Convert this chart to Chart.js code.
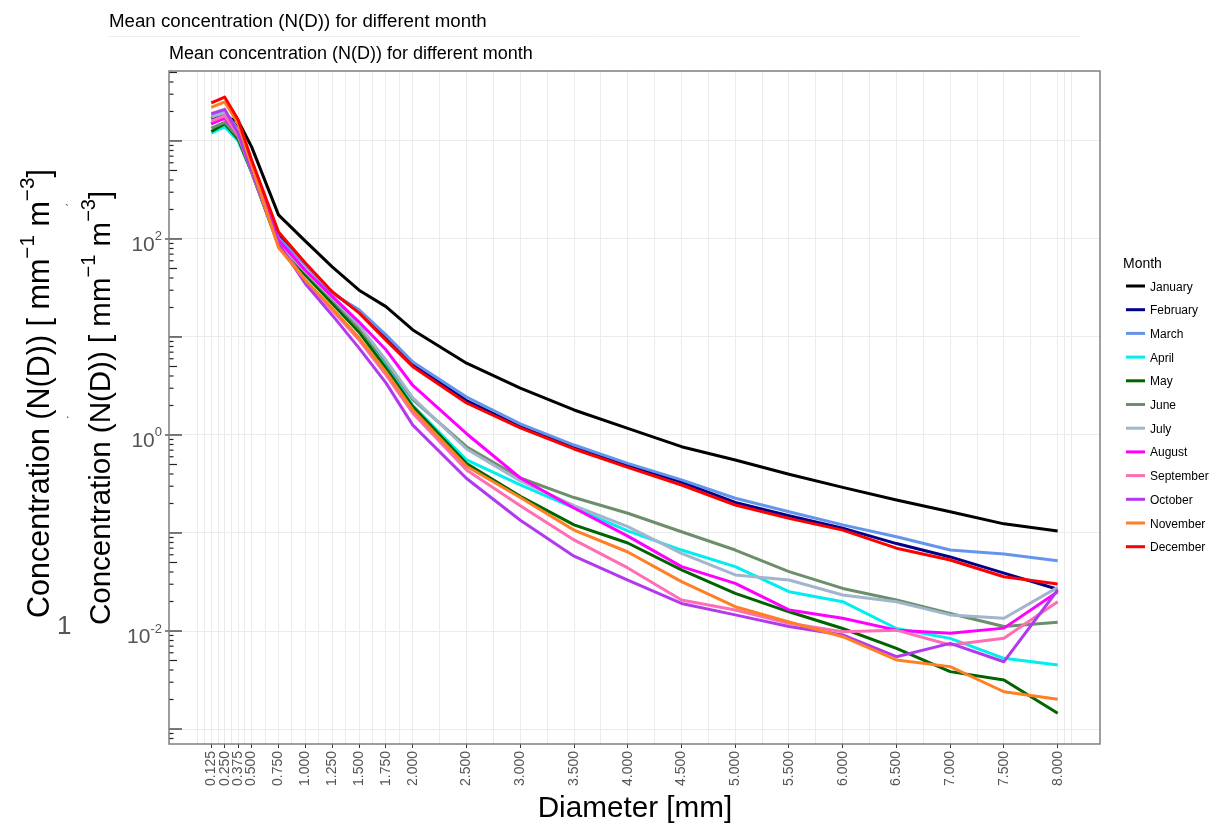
<!DOCTYPE html>
<html>
<head>
<meta charset="utf-8">
<title>Mean concentration (N(D)) for different month</title>
<script src="https://cdn.jsdelivr.net/npm/chart.js@4.4.1/dist/chart.umd.min.js"></script>
<style>
html,body{margin:0;padding:0;background:#fff;}
canvas{display:block;}
</style>
</head>
<body>
<canvas id="chart" width="1216" height="827"></canvas>
<script>
// diameters (mm) and x breaks
const diameters = [0.125,0.25,0.375,0.5,0.75,1,1.25,1.5,1.75,2,2.5,3,3.5,4,4.5,5,5.5,6,6.5,7,7.5,8];
const xBreaks = diameters;
const yLabelDecades = [-2,0,2];
const months = ["January","February","March","April","May","June","July","August","September","October","November","December"];
const monthColors = ["#000000","#00008B","#6495ED","#00EEEE","#006400","#6B8E6B","#A2B5CD","#FF00FF","#FF6EB4","#B23AEE","#FF7F24","#FF0000"];

// mean N(D) per month
const jan = [1500,1750,1600,870,176,95,52,30,20.4,11.8,5.4,3.0,1.8,1.17,0.76,0.556,0.397,0.292,0.217,0.165,0.124,0.105];
const feb = [1700,1950,1350,620,110,55,28.5,18,9.8,5.2,2.25,1.22,0.75,0.49,0.33,0.205,0.15,0.112,0.078,0.057,0.039,0.0267];
const mar = [1800,2000,1300,600,103,54,28,18.9,10.5,5.56,2.44,1.3,0.79,0.514,0.348,0.226,0.165,0.121,0.0917,0.0671,0.0611,0.0521];
const apr = [1200,1400,1000,480,88,44,22.6,11.7,5.2,2.0,0.556,0.31,0.18,0.105,0.067,0.0454,0.0252,0.0199,0.0106,0.00841,0.00526,0.0045];
const may = [1250,1500,1050,480,86,43,22,11.2,4.8,1.95,0.51,0.237,0.121,0.079,0.042,0.0242,0.0157,0.0106,0.00665,0.00385,0.00316,0.00145];
const jun = [1350,1550,1100,500,90,46,24,12.3,5.6,2.3,0.76,0.364,0.23,0.159,0.103,0.067,0.0404,0.0272,0.0207,0.0151,0.0111,0.0123];
const jul = [1750,1950,1250,520,92,47,25,13.2,5.8,2.39,0.72,0.34,0.19,0.116,0.062,0.0373,0.0331,0.0233,0.0199,0.0146,0.0135,0.0279];
const aug = [1500,1700,1200,520,97,48,26,14.2,7.4,3.2,1.03,0.364,0.18,0.093,0.0454,0.0306,0.0164,0.0135,0.0102,0.00946,0.0107,0.0252];
const sep = [1600,1800,1150,490,88,38,18.7,9.3,4.1,1.67,0.44,0.19,0.085,0.044,0.0207,0.0164,0.012,0.00984,0.0102,0.00719,0.00843,0.0199];
const oct = [1900,2100,1200,500,90,35,16.7,7.7,3.4,1.26,0.36,0.135,0.058,0.033,0.0191,0.0146,0.0111,0.0091,0.00547,0.00748,0.00486,0.0262];
const nov = [2200,2500,1500,560,82,38,19.6,9.8,4.4,1.8,0.48,0.23,0.107,0.064,0.0319,0.0177,0.0124,0.00875,0.00506,0.00433,0.0024,0.00201];
const dec = [2450,2800,1650,640,118,57,29,17.6,9.3,4.98,2.12,1.18,0.72,0.468,0.309,0.193,0.141,0.107,0.070,0.053,0.0358,0.0302];
const monthValues = [jan,feb,mar,apr,may,jun,jul,aug,sep,oct,nov,dec];

const FONT = '"Liberation Sans", Arial, Helvetica, sans-serif';
const GRID = "#ebebeb";

// minor grid lines half way between breaks (ggplot style)
let gridX = [0, 0.0625];
xBreaks.forEach((b,i) => {
	gridX.push(b);
	if (i < xBreaks.length-1) gridX.push((b + xBreaks[i+1]) / 2);
});
gridX.push(8.0625, 8.125);
const isBreak = v => xBreaks.some(b => Math.abs(b - v) < 1e-9);

const datasets = months.map((m,i) => ({
	label: m,
	data: diameters.map((d,j) => ({x: d, y: monthValues[i][j]})),
	borderColor: monthColors[i],
	backgroundColor: monthColors[i],
	borderWidth: 3,
	pointRadius: 0,
	tension: 0,
	fill: false,
	borderJoinStyle: "round",
	order: months.length - 1 - i
}));

function supText(ctx, parts, x, y, size, align, ratio) {
	// parts: [text, isSup]
	ratio = ratio || 0.62;
	let widths = parts.map(p => { ctx.font = (p[1] ? size*ratio : size) + "px " + FONT; return ctx.measureText(p[0]).width; });
	let total = widths.reduce((a,b) => a+b, 0);
	let cx = align === "right" ? x - total : x;
	parts.forEach((p,i) => {
		ctx.font = (p[1] ? size*ratio : size) + "px " + FONT;
		ctx.fillText(p[0], cx, p[1] ? y - size*0.5 : y);
		cx += widths[i];
	});
}

const extras = {
	id: "extras",
	afterDraw(chart) {
		const ctx = chart.ctx;
		const a = chart.chartArea;
		const ys = chart.scales.y;
		ctx.save();
		ctx.textAlign = "left";
		ctx.textBaseline = "alphabetic";

		// titles
		ctx.fillStyle = "#000";
		ctx.font = "18.7px " + FONT;
		ctx.fillText("Mean concentration (N(D)) for different month", 109, 26.5);
		ctx.strokeStyle = "#eeeeee";
		ctx.lineWidth = 1;
		ctx.beginPath(); ctx.moveTo(109, 36.5); ctx.lineTo(1080, 36.5); ctx.stroke();
		ctx.font = "18px " + FONT;
		ctx.fillText("Mean concentration (N(D)) for different month", 169, 58.5);

		// log ticks inside left edge
		ctx.strokeStyle = "#222";
		ctx.lineWidth = 1.2;
		for (let e = -4; e <= 3; e++) {
			for (let k = 1; k <= 9; k++) {
				const v = k * Math.pow(10, e);
				const py = ys.getPixelForValue(v);
				if (py < a.top || py > a.bottom) continue;
				const len = k === 1 ? 13 : (k === 5 ? 8 : 4.5);
				ctx.beginPath(); ctx.moveTo(a.left, py); ctx.lineTo(a.left + len, py); ctx.stroke();
			}
		}
		// y axis labels 10^n with outside ticks
		ctx.fillStyle = "#555";
		yLabelDecades.forEach(e => {
			const py = ys.getPixelForValue(Math.pow(10, e));
			ctx.strokeStyle = "#333";
			ctx.beginPath(); ctx.moveTo(a.left - 4, py); ctx.lineTo(a.left, py); ctx.stroke();
			supText(ctx, [["10", false], [String(e), true]], 162, py + 12, 21, "right");
		});

		// panel border
		ctx.strokeStyle = "#7f7f7f";
		ctx.lineWidth = 1.5;
		ctx.strokeRect(a.left, a.top, a.right - a.left, a.bottom - a.top);

		// axis titles
		ctx.fillStyle = "#000";
		ctx.font = "29.7px " + FONT;
		ctx.textAlign = "center";
		ctx.fillText("Diameter [mm]", 635, 817);
		ctx.textAlign = "left";

		const yTitle = [["Concentration (N(D)) [ mm", false], ["\u22121", true], [" m", false], ["\u22123", true], ["]", false]];
		ctx.save(); ctx.translate(49, 618); ctx.rotate(-Math.PI/2);
		supText(ctx, yTitle, 0, 0, 30.5, "left", 0.68);
		ctx.restore();
		ctx.save(); ctx.translate(110, 625); ctx.rotate(-Math.PI/2);
		supText(ctx, yTitle, 0, 0, 29.5, "left", 0.68);
		ctx.restore();

		// stray marks
		ctx.fillStyle = "#555";
		ctx.font = "26px " + FONT;
		ctx.fillText("1", 57, 634);
		ctx.font = "12px " + FONT;
		ctx.fillText("`", 65, 214);
		ctx.fillText(".", 66, 418);

		// legend
		ctx.fillStyle = "#000";
		ctx.font = "14px " + FONT;
		ctx.fillText("Month", 1123, 268);
		ctx.font = "12px " + FONT;
		months.forEach((m,i) => {
			const ly = 286 + i * 23.7;
			ctx.strokeStyle = monthColors[i];
			ctx.lineWidth = 3;
			ctx.beginPath(); ctx.moveTo(1126, ly); ctx.lineTo(1145, ly); ctx.stroke();
			ctx.fillStyle = "#000";
			ctx.fillText(m, 1150, ly + 4.5);
		});
		ctx.restore();
	}
};

new Chart(document.getElementById("chart").getContext("2d"), {
	type: "line",
	data: { datasets: datasets },
	options: {
		responsive: false,
		animation: false,
		layout: { padding: { left: 109, top: 71, right: 116, bottom: 0 } },
		plugins: { legend: { display: false }, tooltip: { enabled: false }, title: { display: false } },
		scales: {
			x: {
				type: "linear",
				min: -0.26875,
				max: 8.39375,
				afterBuildTicks: s => { s.ticks = gridX.map(v => ({ value: v })); },
				afterFit: s => { s.height = 83; },
				border: { display: false },
				grid: {
					color: GRID,
					lineWidth: 1,
					drawTicks: true,
					tickLength: 4,
					tickColor: c => (c.tick && isBreak(c.tick.value)) ? "#333" : "rgba(0,0,0,0)"
				},
				ticks: {
					autoSkip: false,
					maxRotation: 90,
					minRotation: 90,
					padding: 3,
					color: "#555",
					font: { family: FONT, size: 14 },
					callback: v => isBreak(v) ? Number(v).toFixed(3) : ""
				}
			},
			y: {
				type: "logarithmic",
				min: Math.pow(10, -3.153),
				max: Math.pow(10, 3.714),
				afterBuildTicks: s => { s.ticks = [-3,-2,-1,0,1,2,3].map(e => ({ value: Math.pow(10, e) })); },
				afterFit: s => { s.width = 60; },
				border: { display: false },
				grid: { color: GRID, lineWidth: 1, drawTicks: false },
				ticks: { display: false }
			}
		}
	},
	plugins: [extras]
});
</script>
</body>
</html>
